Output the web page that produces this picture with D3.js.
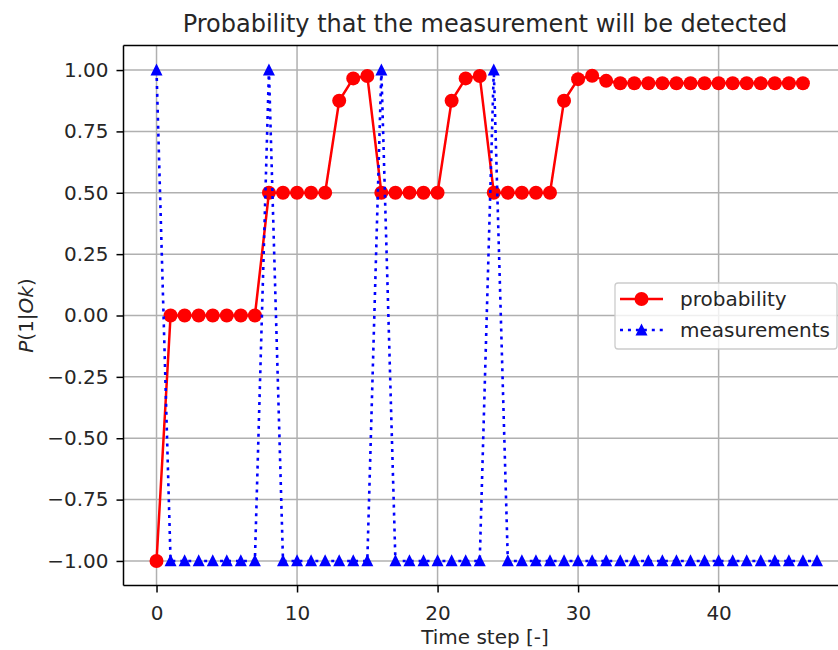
<!DOCTYPE html>
<html>
<head>
<meta charset="utf-8">
<script src="https://cdn.jsdelivr.net/npm/d3@7/dist/d3.min.js"></script>
<style>
  body { margin: 0; background: #fff; }
  svg { display: block; }
  text { font-family: "DejaVu Sans", sans-serif; fill: #262626; }
</style>
</head>
<body>
<script>
// ---- data ----
const probSteps = d3.range(0, 47);
const probValues = [
  -1.0,
  0, 0, 0, 0, 0, 0, 0,
  0.5, 0.5, 0.5, 0.5, 0.5, 0.875, 0.966, 0.976,
  0.5, 0.5, 0.5, 0.5, 0.5, 0.875, 0.966, 0.976,
  0.5, 0.5, 0.5, 0.5, 0.5, 0.875, 0.963, 0.977, 0.956,
  0.946, 0.946, 0.946, 0.946, 0.946, 0.946, 0.946, 0.946, 0.946, 0.946, 0.946, 0.946, 0.946, 0.946
];
const measSteps = d3.range(0, 48);
const measValues = [
  1, -1, -1, -1, -1, -1, -1, -1,
  1, -1, -1, -1, -1, -1, -1, -1,
  1, -1, -1, -1, -1, -1, -1, -1,
  1, -1, -1, -1, -1, -1, -1, -1,
  -1, -1, -1, -1, -1, -1, -1, -1,
  -1, -1, -1, -1, -1, -1, -1, -1
];
const xTicks = [0, 10, 20, 30, 40];
const yTicks = [-1.0, -0.75, -0.5, -0.25, 0, 0.25, 0.5, 0.75, 1.0];
const titleText = "Probability that the measurement will be detected";
const xLabel = "Time step [-]";
const seriesNames = ["probability", "measurements"];

// ---- layout ----
const W = 838, H = 650;
const pL = 123.5, pR = 850, pT = 45.5, pB = 585.5;
const FS = 20;

const svg = d3.select("body").append("svg").attr("width", W).attr("height", H);

const x = d3.scaleLinear().domain([-2.35, 49.35]).range([pL, pR]);
const y = d3.scaleLinear().domain([-1.1, 1.1]).range([pB, pT]);

svg.append("defs").append("clipPath").attr("id", "clip")
  .append("rect").attr("x", pL).attr("y", pT).attr("width", pR - pL).attr("height", pB - pT);

// grid
const grid = svg.append("g").attr("clip-path", "url(#clip)");
grid.selectAll(".gx").data(xTicks).enter().append("line")
  .attr("x1", d => x(d)).attr("x2", d => x(d)).attr("y1", pT).attr("y2", pB)
  .attr("stroke", "#b0b0b0").attr("stroke-width", 1.5);
grid.selectAll(".gy").data(yTicks).enter().append("line")
  .attr("x1", pL).attr("x2", pR).attr("y1", d => y(d)).attr("y2", d => y(d))
  .attr("stroke", "#b0b0b0").attr("stroke-width", 1.5);

// axes
const xAxis = d3.axisBottom(x).tickValues(xTicks).tickFormat(d3.format("d")).tickSizeOuter(0).tickSize(7).tickPadding(7);
const yAxis = d3.axisLeft(y).tickValues(yTicks).tickFormat(d => d3.format(".2f")(d).replace("-", "\u2212")).tickSizeOuter(0).tickSize(7).tickPadding(8);

const gx = svg.append("g").attr("transform", `translate(0,${pB})`).call(xAxis);
const gy = svg.append("g").attr("transform", `translate(${pL},0)`).call(yAxis);
[gx, gy].forEach(g => {
  g.select(".domain").remove();
  g.selectAll(".tick line").attr("stroke", "#000").attr("stroke-width", 1.5);
  g.selectAll(".tick text").attr("font-size", FS).attr("font-family", "DejaVu Sans").attr("fill", "#262626");
});
gx.selectAll(".tick text").attr("y", 34).attr("dy", null);

// spines
[[pL, pL, pT, pB], [pL, pR, pB, pB], [pL, pR, pT, pT], [pR, pR, pT, pB]].forEach(s => {
  svg.append("line").attr("x1", s[0]).attr("x2", s[1]).attr("y1", s[2]).attr("y2", s[3])
    .attr("stroke", "#000").attr("stroke-width", 1.5);
});

// series
const probData = probSteps.map((s, i) => [s, probValues[i]]);
const measData = measSteps.map((s, i) => [s, measValues[i]]);
const line = d3.line().x(d => x(d[0])).y(d => y(d[1]));

const triPath = (w, h) => `M0,${-h * 0.55}L${w / 2},${h * 0.45}L${-w / 2},${h * 0.45}Z`;

const series = svg.append("g").attr("clip-path", "url(#clip)");
series.append("path").datum(probData).attr("d", line)
  .attr("fill", "none").attr("stroke", "red").attr("stroke-width", 2.5);
series.selectAll(".pc").data(probData).enter().append("circle")
  .attr("cx", d => x(d[0])).attr("cy", d => y(d[1])).attr("r", 7).attr("fill", "red");

series.append("path").datum(measData).attr("d", line)
  .attr("fill", "none").attr("stroke", "blue").attr("stroke-width", 2.6)
  .attr("stroke-dasharray", "3,4.95").attr("stroke-linecap", "butt");
series.selectAll(".mt").data(measData).enter().append("path")
  .attr("transform", d => `translate(${x(d[0])},${y(d[1])})`)
  .attr("d", triPath(12, 12)).attr("fill", "blue");

// title & labels
svg.append("text").attr("x", 485).attr("y", 32).attr("text-anchor", "middle")
  .attr("font-size", 24).text(titleText);
svg.append("text").attr("x", 485).attr("y", 644).attr("text-anchor", "middle")
  .attr("font-size", FS).text(xLabel);

const yl = svg.append("text").attr("transform", `translate(33,${(pT + pB) / 2}) rotate(-90)`)
  .attr("text-anchor", "middle").attr("font-size", FS);
yl.append("tspan").attr("font-style", "italic").text("P");
yl.append("tspan").text("(1|");
yl.append("tspan").attr("font-style", "italic").text("Ok");
yl.append("tspan").text(")");

// legend
const lg = svg.append("g");
lg.append("rect").attr("x", 615).attr("y", 283).attr("width", 222).attr("height", 66)
  .attr("rx", 3).attr("fill", "white").attr("fill-opacity", 0.8).attr("stroke", "#cccccc").attr("stroke-width", 1.3);
const rowY = [299, 330];
lg.append("line").attr("x1", 620).attr("x2", 663).attr("y1", rowY[0]).attr("y2", rowY[0])
  .attr("stroke", "red").attr("stroke-width", 2.5);
lg.append("circle").attr("cx", 641.5).attr("cy", rowY[0]).attr("r", 7).attr("fill", "red");
lg.append("line").attr("x1", 620).attr("x2", 663).attr("y1", rowY[1]).attr("y2", rowY[1])
  .attr("stroke", "blue").attr("stroke-width", 2.6).attr("stroke-dasharray", "3,4.95");
lg.append("path").attr("transform", `translate(641.5,${rowY[1]})`).attr("d", triPath(12, 12)).attr("fill", "blue");
lg.selectAll(".lt").data(seriesNames).enter().append("text")
  .attr("x", 680).attr("y", (d, i) => rowY[i]).attr("dy", "0.35em")
  .attr("font-size", FS).text(d => d);
</script>
</body>
</html>
